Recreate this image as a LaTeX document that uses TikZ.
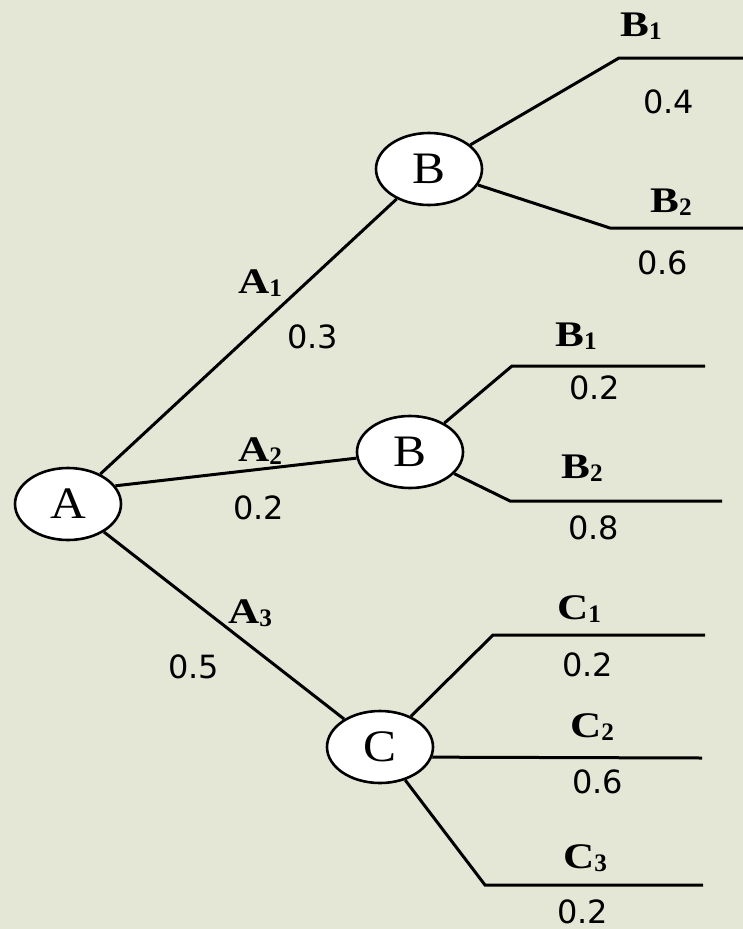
\documentclass[tikz,border=0pt]{standalone}
\usepackage{fontspec}
\setmainfont{Liberation Serif}
\newfontfamily\numfont{DejaVu Sans}
\usetikzlibrary{shapes.geometric}
\definecolor{paper}{RGB}{229,231,214}
% event label with a small bold index
\newcommand{\evt}[2]{\scalebox{1.2}[1]{\textbf{#1}}\raisebox{-0.1em}{\scalebox{0.7}{\textbf{#2}}}}
\newcommand{\wide}[1]{\scalebox{1.1}[1]{#1}}

\begin{document}
\begin{tikzpicture}[x=1pt,y=-1pt,
  state/.style={draw,ellipse,fill=white,line width=2.6pt,
    minimum width=106pt,minimum height=72pt,inner sep=0pt,
    font=\fontsize{45}{50}\selectfont},
  branch/.style={line width=3pt},
  evlabel/.style={anchor=base west,inner sep=0pt,font=\fontsize{36}{40}\selectfont},
  prob/.style={anchor=base west,inner sep=0pt,font=\numfont\fontsize{32}{38}\selectfont}
]
\useasboundingbox (0,0) rectangle (743,929);
\fill[paper] (0,0) rectangle (743,929);

% ---- chance nodes ----
\node[state] (A)  at (68,504)  {\wide{A}};
\node[state] (Bt) at (429,169) {\wide{B}};
\node[state] (Bm) at (410,452) {\wide{B}};
\node[state] (C)  at (380,747) {\wide{C}};

% ---- leaf ends ----
\coordinate (bt1) at (619,58);  \coordinate (bt1e) at (743,58);
\coordinate (bt2) at (610,228); \coordinate (bt2e) at (743,228);
\coordinate (bm1) at (512,366); \coordinate (bm1e) at (705,366);
\coordinate (bm2) at (510,501); \coordinate (bm2e) at (722,501);
\coordinate (c1)  at (493,635); \coordinate (c1e)  at (705,635);
\coordinate (c2e) at (702,758);
\coordinate (c3)  at (485,885); \coordinate (c3e)  at (703,885);

% ---- first stage ----
\draw[branch] (A) -- (Bt);
\draw[branch] (A.21) -- (Bm);
\draw[branch] (A) -- (C);
\node[evlabel] (la1) at (238,293) {\evt{A}{1}};
\node[prob]    (pa1) at (287,348) {0.3};
\node[evlabel] (la2) at (238,461) {\evt{A}{2}};
\node[prob]    (pa2) at (233,519) {0.2};
\node[evlabel] (la3) at (228,623) {\evt{A}{3}};
\node[prob]    (pa3) at (168,678) {0.5};

% ---- upper B ----
\draw[branch] (Bt) -- (bt1) -- (bt1e);
\draw[branch] (Bt) -- (bt2) -- (bt2e);
\node[evlabel] (lbt1) at (620,36)  {\evt{B}{1}};
\node[prob]    (pbt1) at (643,113) {0.4};
\node[evlabel] (lbt2) at (650,212) {\evt{B}{2}};
\node[prob]    (pbt2) at (637,274) {0.6};

% ---- middle B ----
\draw[branch] (Bm) -- (bm1) -- (bm1e);
\draw[branch] (Bm) -- (bm2) -- (bm2e);
\node[evlabel] (lbm1) at (555,346) {\evt{B}{1}};
\node[prob]    (pbm1) at (569,399) {0.2};
\node[evlabel] (lbm2) at (561,478) {\evt{B}{2}};
\node[prob]    (pbm2) at (568,539) {0.8};

% ---- C ----
\draw[branch] (C) -- (c1) -- (c1e);
\draw[branch] (C.-11) -- (c2e);
\draw[branch] (C) -- (c3) -- (c3e);
\node[evlabel] (lc1) at (557,619) {\evt{C}{1}};
\node[prob]    (pc1) at (562,676) {0.2};
\node[evlabel] (lc2) at (570,737) {\evt{C}{2}};
\node[prob]    (pc2) at (572,793) {0.6};
\node[evlabel] (lc3) at (563,868) {\evt{C}{3}};
\node[prob]    (pc3) at (557,923) {0.2};
\end{tikzpicture}
\end{document}
